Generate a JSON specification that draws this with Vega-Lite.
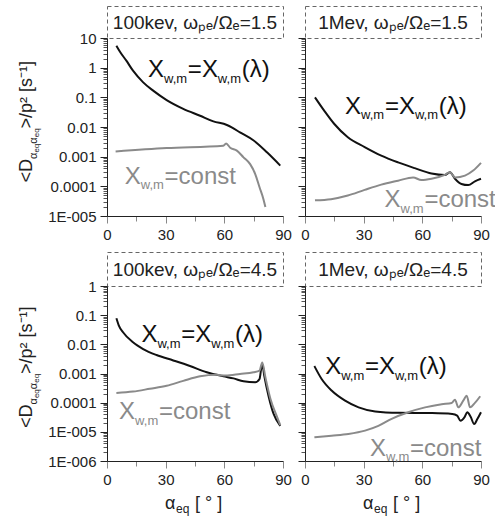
{
  "$schema": "https://vega.github.io/schema/vega-lite/v6.json",
  "padding": {"left": 5, "top": 5, "right": 0, "bottom": 0},
  "columns": 3,
  "spacing": {"row": 9, "column": 5},
  "datasets": {
    "curves": [
      {"p":"A","s":"lam","x":4.8,"y":5.5},{"p":"A","s":"lam","x":6.8,"y":3.3},{"p":"A","s":"lam","x":9.9,"y":1.72},{"p":"A","s":"lam","x":13.3,"y":0.79},{"p":"A","s":"lam","x":18.5,"y":0.32},{"p":"A","s":"lam","x":23.6,"y":0.168},{"p":"A","s":"lam","x":30.5,"y":0.081},{"p":"A","s":"lam","x":39,"y":0.041},{"p":"A","s":"lam","x":47.6,"y":0.024},{"p":"A","s":"lam","x":54.4,"y":0.0155},{"p":"A","s":"lam","x":61.3,"y":0.0117},{"p":"A","s":"lam","x":64,"y":0.0095},{"p":"A","s":"lam","x":68,"y":0.0066},{"p":"A","s":"lam","x":75,"y":0.0035},{"p":"A","s":"lam","x":81.8,"y":0.0014},{"p":"A","s":"lam","x":88.6,"y":0.0005},
      {"p":"A","s":"const","x":4.4,"y":0.0015},{"p":"A","s":"const","x":30.5,"y":0.00195},{"p":"A","s":"const","x":59.5,"y":0.00234},{"p":"A","s":"const","x":60.9,"y":0.0028},{"p":"A","s":"const","x":63,"y":0.002},{"p":"A","s":"const","x":66.4,"y":0.0016},{"p":"A","s":"const","x":69.8,"y":0.00095},{"p":"A","s":"const","x":73.2,"y":0.00056},{"p":"A","s":"const","x":75.8,"y":0.00026},{"p":"A","s":"const","x":78,"y":0.000093},{"p":"A","s":"const","x":80,"y":0.000037},{"p":"A","s":"const","x":81,"y":0.00002},
      {"p":"B","s":"lam","x":5.1,"y":0.1},{"p":"B","s":"lam","x":9.9,"y":0.035},{"p":"B","s":"lam","x":15,"y":0.0126},{"p":"B","s":"lam","x":21.9,"y":0.0045},{"p":"B","s":"lam","x":30.5,"y":0.0021},{"p":"B","s":"lam","x":39,"y":0.00108},{"p":"B","s":"lam","x":47.6,"y":0.00064},{"p":"B","s":"lam","x":56.1,"y":0.00041},{"p":"B","s":"lam","x":64.7,"y":0.00027},{"p":"B","s":"lam","x":71.5,"y":0.00024},{"p":"B","s":"lam","x":74.1,"y":0.0003},{"p":"B","s":"lam","x":76.7,"y":0.00018},{"p":"B","s":"lam","x":80,"y":0.00012},{"p":"B","s":"lam","x":83.5,"y":0.00011},{"p":"B","s":"lam","x":86.9,"y":0.000148},{"p":"B","s":"lam","x":90,"y":0.00018},
      {"p":"B","s":"const","x":5.1,"y":0.000034},{"p":"B","s":"const","x":13.3,"y":0.000037},{"p":"B","s":"const","x":21.9,"y":0.000049},{"p":"B","s":"const","x":30.5,"y":0.000076},{"p":"B","s":"const","x":39,"y":0.000114},{"p":"B","s":"const","x":47.6,"y":0.000155},{"p":"B","s":"const","x":55.3,"y":0.0002},{"p":"B","s":"const","x":59.5,"y":0.000162},{"p":"B","s":"const","x":64.7,"y":0.00018},{"p":"B","s":"const","x":71.5,"y":0.000245},{"p":"B","s":"const","x":74.1,"y":0.0003},{"p":"B","s":"const","x":76.7,"y":0.0002},{"p":"B","s":"const","x":81.8,"y":0.00023},{"p":"B","s":"const","x":86,"y":0.00034},{"p":"B","s":"const","x":90,"y":0.00062},
      {"p":"C","s":"lam","x":4.8,"y":0.078},{"p":"C","s":"lam","x":6,"y":0.045},{"p":"C","s":"lam","x":8.2,"y":0.026},{"p":"C","s":"lam","x":13.3,"y":0.0117},{"p":"C","s":"lam","x":18.5,"y":0.0069},{"p":"C","s":"lam","x":25.3,"y":0.0043},{"p":"C","s":"lam","x":33.9,"y":0.0028},{"p":"C","s":"lam","x":42.4,"y":0.0018},{"p":"C","s":"lam","x":51,"y":0.0011},{"p":"C","s":"lam","x":59.5,"y":0.0008},{"p":"C","s":"lam","x":64.7,"y":0.00068},{"p":"C","s":"lam","x":69.8,"y":0.00054},{"p":"C","s":"lam","x":75.8,"y":0.0005},{"p":"C","s":"lam","x":78,"y":0.00065},{"p":"C","s":"lam","x":78.8,"y":0.0014},{"p":"C","s":"lam","x":79.4,"y":0.0021},{"p":"C","s":"lam","x":80.4,"y":0.00085},{"p":"C","s":"lam","x":82.6,"y":0.00017},{"p":"C","s":"lam","x":85.2,"y":0.000041},{"p":"C","s":"lam","x":88.6,"y":0.000016},
      {"p":"C","s":"const","x":4.8,"y":0.000214},{"p":"C","s":"const","x":13.3,"y":0.00024},{"p":"C","s":"const","x":21.9,"y":0.0003},{"p":"C","s":"const","x":30.5,"y":0.00038},{"p":"C","s":"const","x":39,"y":0.00056},{"p":"C","s":"const","x":47.6,"y":0.0008},{"p":"C","s":"const","x":56.1,"y":0.0009},{"p":"C","s":"const","x":60.6,"y":0.00085},{"p":"C","s":"const","x":68,"y":0.00096},{"p":"C","s":"const","x":74.9,"y":0.0011},{"p":"C","s":"const","x":78,"y":0.00126},{"p":"C","s":"const","x":79.4,"y":0.0024},{"p":"C","s":"const","x":81,"y":0.00074},{"p":"C","s":"const","x":83.6,"y":0.000134},{"p":"C","s":"const","x":87,"y":0.000032},{"p":"C","s":"const","x":88.6,"y":0.000017},
      {"p":"D","s":"lam","x":4.8,"y":0.0018},{"p":"D","s":"lam","x":8.5,"y":0.00065},{"p":"D","s":"lam","x":13.6,"y":0.00026},{"p":"D","s":"lam","x":20.5,"y":0.000117},{"p":"D","s":"lam","x":27.4,"y":0.000069},{"p":"D","s":"lam","x":35.9,"y":0.00005},{"p":"D","s":"lam","x":47.9,"y":0.000045},{"p":"D","s":"lam","x":65,"y":0.000044},{"p":"D","s":"lam","x":75.3,"y":0.000041},{"p":"D","s":"lam","x":77.8,"y":0.000036},{"p":"D","s":"lam","x":79.5,"y":0.000024},{"p":"D","s":"lam","x":81.6,"y":0.000032},{"p":"D","s":"lam","x":83,"y":0.000047},{"p":"D","s":"lam","x":84.7,"y":0.000033},{"p":"D","s":"lam","x":86.5,"y":0.0000185},{"p":"D","s":"lam","x":88.2,"y":0.000028},{"p":"D","s":"lam","x":90,"y":0.000047},
      {"p":"D","s":"const","x":4.8,"y":0.0000065},{"p":"D","s":"const","x":13.6,"y":0.0000074},{"p":"D","s":"const","x":22.2,"y":0.0000085},{"p":"D","s":"const","x":30.7,"y":0.000011},{"p":"D","s":"const","x":37.5,"y":0.000016},{"p":"D","s":"const","x":44.3,"y":0.000028},{"p":"D","s":"const","x":52.8,"y":0.000047},{"p":"D","s":"const","x":61.4,"y":0.000069},{"p":"D","s":"const","x":69.9,"y":0.000089},{"p":"D","s":"const","x":75,"y":0.000098},{"p":"D","s":"const","x":76.7,"y":0.000126},{"p":"D","s":"const","x":78.4,"y":0.000069},{"p":"D","s":"const","x":81,"y":0.00012},{"p":"D","s":"const","x":82.7,"y":0.000174},{"p":"D","s":"const","x":84.4,"y":0.000069},{"p":"D","s":"const","x":87,"y":0.0001},{"p":"D","s":"const","x":89.6,"y":0.000166}
    ],
    "labels": [
      {"p":"A","s":"lam","x":21,"y":0.47,"mid":"=X"},
      {"p":"A","s":"const","x":9.1,"y":0.00012,"mid":"=const"},
      {"p":"B","s":"lam","x":20.5,"y":0.0275,"mid":"=X"},
      {"p":"B","s":"const","x":40.7,"y":0.0000194,"mid":"=const"},
      {"p":"C","s":"lam","x":17.6,"y":0.0117,"mid":"=X"},
      {"p":"C","s":"const","x":6.2,"y":0.0000275,"mid":"=const"},
      {"p":"D","s":"lam","x":10.3,"y":0.00096,"mid":"=X"},
      {"p":"D","s":"const","x":33.3,"y":0.0000015,"mid":"=const"}
    ],
    "titles": [
      {"p":"A","t":"100kev, ωₚₑ/Ωₑ=1.5"},
      {"p":"B","t":"1Mev, ωₚₑ/Ωₑ=1.5"},
      {"p":"C","t":"100kev, ωₚₑ/Ωₑ=4.5"},
      {"p":"D","t":"1Mev, ωₚₑ/Ωₑ=4.5"}
    ],
    "ytitle": [{"a":"<D","b":"α","c":"eq","d":">/p² [s⁻¹]"}],
    "xtitle": [{"a":"α","b":"eq","c":"[ ° ]"}]
  },
  "concat": [
    {
      "width": 37, "height": 210,
      "data": {"name": "ytitle"},
      "layer": [
        {"mark": {"type":"text","angle":270,"align":"right","baseline":"alphabetic","fontSize":18,"dx":-48,"dy":8,"color":"#222"},"encoding":{"text":{"field":"a"}}},
        {"mark": {"type":"text","angle":270,"align":"left","baseline":"alphabetic","fontSize":11,"dx":-48,"dy":13,"color":"#222"},"encoding":{"text":{"field":"b"}}},
        {"mark": {"type":"text","angle":270,"align":"left","baseline":"alphabetic","fontSize":8,"dx":-41.6,"dy":15,"color":"#222"},"encoding":{"text":{"field":"c"}}},
        {"mark": {"type":"text","angle":270,"align":"left","baseline":"alphabetic","fontSize":11,"dx":-32.7,"dy":13,"color":"#222"},"encoding":{"text":{"field":"b"}}},
        {"mark": {"type":"text","angle":270,"align":"left","baseline":"alphabetic","fontSize":8,"dx":-26.3,"dy":15,"color":"#222"},"encoding":{"text":{"field":"c"}}},
        {"mark": {"type":"text","angle":270,"align":"left","baseline":"alphabetic","fontSize":18,"dx":-17.4,"dy":8,"color":"#222"},"encoding":{"text":{"field":"d"}}}
      ]
    },
    {
      "vconcat": [
        {
          "width": 176, "height": 32,
          "view": {"stroke": "#666", "strokeDash": [4, 3], "strokeWidth": 1},
          "data": {"name": "titles"},
          "transform": [{"filter": "datum.p == 'A'"}],
          "mark": {"type": "text", "fontSize": 19, "color": "#222", "dy": 1},
          "encoding": {"text": {"field": "t"}}
        },
        {
          "width": 176, "height": 178,
          "encoding": {
            "x": {"field":"x","type":"quantitative","scale":{"domain":[0,90],"nice":false,"zero":false},
                  "axis":{"title":null,"grid":false,"values":[0,15,30,45,60,75,90],"labelExpr":"datum.value % 30 == 0 ? datum.label : ''","labelFlush":false,"labelOverlap":false,"labelPadding":4,"tickSize":{"condition":{"test":"datum.value % 30 == 0","value":7},"value":5}}},
            "y": {"field":"y","type":"quantitative","scale":{"type":"log","domain":[0.00001,10],"nice":false},
                  "axis":{"title":null,"grid":false,"values":[1e-5,2e-5,3e-5,4e-5,5e-5,6e-5,7e-5,8e-5,9e-5,1e-4,2e-4,3e-4,4e-4,5e-4,6e-4,7e-4,8e-4,9e-4,0.001,0.002,0.003,0.004,0.005,0.006,0.007,0.008,0.009,0.01,0.02,0.03,0.04,0.05,0.06,0.07,0.08,0.09,0.1,0.2,0.3,0.4,0.5,0.6,0.7,0.8,0.9,1,2,3,4,5,6,7,8,9,10],
                          "labelExpr":"abs(log(datum.value)/LN10-round(log(datum.value)/LN10))<0.01 ? (datum.value<0.00005 ? (datum.value<0.000005 ? '1E-006' : '1E-005') : format(datum.value,'~g')) : ''",
                          "labelFlush":false,"labelOverlap":false,"labelPadding":4,
                          "tickSize":{"condition":{"test":"abs(log(datum.value)/LN10-round(log(datum.value)/LN10))<0.01","value":7},"value":4},
                          "tickColor":{"condition":{"test":"abs(log(datum.value)/LN10-round(log(datum.value)/LN10))<0.01","value":"#222"},"value":"#555"}}},
            "color": {"field":"s","type":"nominal","scale":{"domain":["lam","const"],"range":["#111111","#8a8a8a"]},"legend":null}
          },
          "layer": [
            {"data":{"name":"curves"},"transform":[{"filter":"datum.p == 'A'"}],"mark":{"type":"line","strokeWidth":2,"interpolate":"monotone"}},
            {"data":{"name":"labels"},"transform":[{"filter":"datum.p == 'A'"}],
             "layer": [
               {"mark":{"type":"text","text":"X","align":"left","baseline":"alphabetic","fontSize":24}},
               {"mark":{"type":"text","text":"w,m","align":"left","baseline":"alphabetic","fontSize":13,"dx":16,"dy":5.5}},
               {"mark":{"type":"text","align":"left","baseline":"alphabetic","fontSize":24,"dx":39.8},"encoding":{"text":{"field":"mid"}}},
               {"transform":[{"filter":"datum.s == 'lam'"}],"mark":{"type":"text","text":"w,m","align":"left","baseline":"alphabetic","fontSize":13,"dx":69.8,"dy":5.5}},
               {"transform":[{"filter":"datum.s == 'lam'"}],"mark":{"type":"text","text":"(λ)","align":"left","baseline":"alphabetic","fontSize":24,"dx":93.6}}
             ]}
          ]
        }
      ],
      "spacing": 0,
      "bounds": "flush"
    },
    {
      "vconcat": [
        {
          "width": 176, "height": 32,
          "view": {"stroke": "#666", "strokeDash": [4, 3], "strokeWidth": 1},
          "data": {"name": "titles"},
          "transform": [{"filter": "datum.p == 'B'"}],
          "mark": {"type": "text", "fontSize": 19, "color": "#222", "dy": 1},
          "encoding": {"text": {"field": "t"}}
        },
        {
          "width": 176, "height": 178,
          "encoding": {
            "x": {"field":"x","type":"quantitative","scale":{"domain":[0,90],"nice":false,"zero":false},
                  "axis":{"title":null,"grid":false,"values":[0,15,30,45,60,75,90],"labelExpr":"datum.value % 30 == 0 ? datum.label : ''","labelFlush":false,"labelOverlap":false,"labelPadding":4,"tickSize":{"condition":{"test":"datum.value % 30 == 0","value":7},"value":5}}},
            "y": {"field":"y","type":"quantitative","scale":{"type":"log","domain":[0.00001,10],"nice":false},
                  "axis":{"title":null,"grid":false,"labels":false,"values":[1e-5,2e-5,3e-5,4e-5,5e-5,6e-5,7e-5,8e-5,9e-5,1e-4,2e-4,3e-4,4e-4,5e-4,6e-4,7e-4,8e-4,9e-4,0.001,0.002,0.003,0.004,0.005,0.006,0.007,0.008,0.009,0.01,0.02,0.03,0.04,0.05,0.06,0.07,0.08,0.09,0.1,0.2,0.3,0.4,0.5,0.6,0.7,0.8,0.9,1,2,3,4,5,6,7,8,9,10],
                          "tickSize":{"condition":{"test":"abs(log(datum.value)/LN10-round(log(datum.value)/LN10))<0.01","value":7},"value":4},
                          "tickColor":{"condition":{"test":"abs(log(datum.value)/LN10-round(log(datum.value)/LN10))<0.01","value":"#222"},"value":"#555"}}},
            "color": {"field":"s","type":"nominal","scale":{"domain":["lam","const"],"range":["#111111","#8a8a8a"]},"legend":null}
          },
          "layer": [
            {"data":{"name":"curves"},"transform":[{"filter":"datum.p == 'B'"}],"mark":{"type":"line","strokeWidth":2,"interpolate":"monotone"}},
            {"data":{"name":"labels"},"transform":[{"filter":"datum.p == 'B'"}],
             "layer": [
               {"mark":{"type":"text","text":"X","align":"left","baseline":"alphabetic","fontSize":24}},
               {"mark":{"type":"text","text":"w,m","align":"left","baseline":"alphabetic","fontSize":13,"dx":16,"dy":5.5}},
               {"mark":{"type":"text","align":"left","baseline":"alphabetic","fontSize":24,"dx":39.8},"encoding":{"text":{"field":"mid"}}},
               {"transform":[{"filter":"datum.s == 'lam'"}],"mark":{"type":"text","text":"w,m","align":"left","baseline":"alphabetic","fontSize":13,"dx":69.8,"dy":5.5}},
               {"transform":[{"filter":"datum.s == 'lam'"}],"mark":{"type":"text","text":"(λ)","align":"left","baseline":"alphabetic","fontSize":24,"dx":93.6}}
             ]}
          ]
        }
      ],
      "spacing": 0,
      "bounds": "flush"
    },
    {
      "width": 37, "height": 209,
      "data": {"name": "ytitle"},
      "layer": [
        {"mark": {"type":"text","angle":270,"align":"right","baseline":"alphabetic","fontSize":18,"dx":-48,"dy":8,"color":"#222"},"encoding":{"text":{"field":"a"}}},
        {"mark": {"type":"text","angle":270,"align":"left","baseline":"alphabetic","fontSize":11,"dx":-48,"dy":13,"color":"#222"},"encoding":{"text":{"field":"b"}}},
        {"mark": {"type":"text","angle":270,"align":"left","baseline":"alphabetic","fontSize":8,"dx":-41.6,"dy":15,"color":"#222"},"encoding":{"text":{"field":"c"}}},
        {"mark": {"type":"text","angle":270,"align":"left","baseline":"alphabetic","fontSize":11,"dx":-32.7,"dy":13,"color":"#222"},"encoding":{"text":{"field":"b"}}},
        {"mark": {"type":"text","angle":270,"align":"left","baseline":"alphabetic","fontSize":8,"dx":-26.3,"dy":15,"color":"#222"},"encoding":{"text":{"field":"c"}}},
        {"mark": {"type":"text","angle":270,"align":"left","baseline":"alphabetic","fontSize":18,"dx":-17.4,"dy":8,"color":"#222"},"encoding":{"text":{"field":"d"}}}
      ]
    },
    {
      "vconcat": [
        {
          "width": 176, "height": 34,
          "view": {"stroke": "#666", "strokeDash": [4, 3], "strokeWidth": 1},
          "data": {"name": "titles"},
          "transform": [{"filter": "datum.p == 'C'"}],
          "mark": {"type": "text", "fontSize": 19, "color": "#222", "dy": 1},
          "encoding": {"text": {"field": "t"}}
        },
        {
          "width": 176, "height": 175,
          "encoding": {
            "x": {"field":"x","type":"quantitative","scale":{"domain":[0,90],"nice":false,"zero":false},
                  "axis":{"title":null,"grid":false,"values":[0,15,30,45,60,75,90],"labelExpr":"datum.value % 30 == 0 ? datum.label : ''","labelFlush":false,"labelOverlap":false,"labelPadding":4,"tickSize":{"condition":{"test":"datum.value % 30 == 0","value":7},"value":5}}},
            "y": {"field":"y","type":"quantitative","scale":{"type":"log","domain":[0.000001,1],"nice":false},
                  "axis":{"title":null,"grid":false,"values":[1e-6,2e-6,3e-6,4e-6,5e-6,6e-6,7e-6,8e-6,9e-6,1e-5,2e-5,3e-5,4e-5,5e-5,6e-5,7e-5,8e-5,9e-5,1e-4,2e-4,3e-4,4e-4,5e-4,6e-4,7e-4,8e-4,9e-4,0.001,0.002,0.003,0.004,0.005,0.006,0.007,0.008,0.009,0.01,0.02,0.03,0.04,0.05,0.06,0.07,0.08,0.09,0.1,0.2,0.3,0.4,0.5,0.6,0.7,0.8,0.9,1],
                          "labelExpr":"abs(log(datum.value)/LN10-round(log(datum.value)/LN10))<0.01 ? (datum.value<0.00005 ? (datum.value<0.000005 ? '1E-006' : '1E-005') : format(datum.value,'~g')) : ''",
                          "labelFlush":false,"labelOverlap":false,"labelPadding":4,
                          "tickSize":{"condition":{"test":"abs(log(datum.value)/LN10-round(log(datum.value)/LN10))<0.01","value":7},"value":4},
                          "tickColor":{"condition":{"test":"abs(log(datum.value)/LN10-round(log(datum.value)/LN10))<0.01","value":"#222"},"value":"#555"}}},
            "color": {"field":"s","type":"nominal","scale":{"domain":["lam","const"],"range":["#111111","#8a8a8a"]},"legend":null}
          },
          "layer": [
            {"data":{"name":"curves"},"transform":[{"filter":"datum.p == 'C'"}],"mark":{"type":"line","strokeWidth":2,"interpolate":"monotone"}},
            {"data":{"name":"labels"},"transform":[{"filter":"datum.p == 'C'"}],
             "layer": [
               {"mark":{"type":"text","text":"X","align":"left","baseline":"alphabetic","fontSize":24}},
               {"mark":{"type":"text","text":"w,m","align":"left","baseline":"alphabetic","fontSize":13,"dx":16,"dy":5.5}},
               {"mark":{"type":"text","align":"left","baseline":"alphabetic","fontSize":24,"dx":39.8},"encoding":{"text":{"field":"mid"}}},
               {"transform":[{"filter":"datum.s == 'lam'"}],"mark":{"type":"text","text":"w,m","align":"left","baseline":"alphabetic","fontSize":13,"dx":69.8,"dy":5.5}},
               {"transform":[{"filter":"datum.s == 'lam'"}],"mark":{"type":"text","text":"(λ)","align":"left","baseline":"alphabetic","fontSize":24,"dx":93.6}}
             ]}
          ]
        },
        {
          "width": 176, "height": 57,
          "data": {"name": "xtitle"},
          "layer": [
            {"mark": {"type":"text","align":"left","baseline":"alphabetic","fontSize":18,"dx":-30,"dy":19.5,"color":"#222"},"encoding":{"text":{"field":"a"}}},
            {"mark": {"type":"text","align":"left","baseline":"alphabetic","fontSize":12,"dx":-19,"dy":23.5,"color":"#222"},"encoding":{"text":{"field":"b"}}},
            {"mark": {"type":"text","align":"left","baseline":"alphabetic","fontSize":18,"dx":0,"dy":19.5,"color":"#222"},"encoding":{"text":{"field":"c"}}}
          ]
        }
      ],
      "spacing": 0,
      "bounds": "flush"
    },
    {
      "vconcat": [
        {
          "width": 176, "height": 34,
          "view": {"stroke": "#666", "strokeDash": [4, 3], "strokeWidth": 1},
          "data": {"name": "titles"},
          "transform": [{"filter": "datum.p == 'D'"}],
          "mark": {"type": "text", "fontSize": 19, "color": "#222", "dy": 1},
          "encoding": {"text": {"field": "t"}}
        },
        {
          "width": 176, "height": 175,
          "encoding": {
            "x": {"field":"x","type":"quantitative","scale":{"domain":[0,90],"nice":false,"zero":false},
                  "axis":{"title":null,"grid":false,"values":[0,15,30,45,60,75,90],"labelExpr":"datum.value % 30 == 0 ? datum.label : ''","labelFlush":false,"labelOverlap":false,"labelPadding":4,"tickSize":{"condition":{"test":"datum.value % 30 == 0","value":7},"value":5}}},
            "y": {"field":"y","type":"quantitative","scale":{"type":"log","domain":[0.000001,1],"nice":false},
                  "axis":{"title":null,"grid":false,"labels":false,"values":[1e-6,2e-6,3e-6,4e-6,5e-6,6e-6,7e-6,8e-6,9e-6,1e-5,2e-5,3e-5,4e-5,5e-5,6e-5,7e-5,8e-5,9e-5,1e-4,2e-4,3e-4,4e-4,5e-4,6e-4,7e-4,8e-4,9e-4,0.001,0.002,0.003,0.004,0.005,0.006,0.007,0.008,0.009,0.01,0.02,0.03,0.04,0.05,0.06,0.07,0.08,0.09,0.1,0.2,0.3,0.4,0.5,0.6,0.7,0.8,0.9,1],
                          "tickSize":{"condition":{"test":"abs(log(datum.value)/LN10-round(log(datum.value)/LN10))<0.01","value":7},"value":4},
                          "tickColor":{"condition":{"test":"abs(log(datum.value)/LN10-round(log(datum.value)/LN10))<0.01","value":"#222"},"value":"#555"}}},
            "color": {"field":"s","type":"nominal","scale":{"domain":["lam","const"],"range":["#111111","#8a8a8a"]},"legend":null}
          },
          "layer": [
            {"data":{"name":"curves"},"transform":[{"filter":"datum.p == 'D'"}],"mark":{"type":"line","strokeWidth":2,"interpolate":"monotone"}},
            {"data":{"name":"labels"},"transform":[{"filter":"datum.p == 'D'"}],
             "layer": [
               {"mark":{"type":"text","text":"X","align":"left","baseline":"alphabetic","fontSize":24}},
               {"mark":{"type":"text","text":"w,m","align":"left","baseline":"alphabetic","fontSize":13,"dx":16,"dy":5.5}},
               {"mark":{"type":"text","align":"left","baseline":"alphabetic","fontSize":24,"dx":39.8},"encoding":{"text":{"field":"mid"}}},
               {"transform":[{"filter":"datum.s == 'lam'"}],"mark":{"type":"text","text":"w,m","align":"left","baseline":"alphabetic","fontSize":13,"dx":69.8,"dy":5.5}},
               {"transform":[{"filter":"datum.s == 'lam'"}],"mark":{"type":"text","text":"(λ)","align":"left","baseline":"alphabetic","fontSize":24,"dx":93.6}}
             ]}
          ]
        },
        {
          "width": 176, "height": 57,
          "data": {"name": "xtitle"},
          "layer": [
            {"mark": {"type":"text","align":"left","baseline":"alphabetic","fontSize":18,"dx":-30,"dy":19.5,"color":"#222"},"encoding":{"text":{"field":"a"}}},
            {"mark": {"type":"text","align":"left","baseline":"alphabetic","fontSize":12,"dx":-19,"dy":23.5,"color":"#222"},"encoding":{"text":{"field":"b"}}},
            {"mark": {"type":"text","align":"left","baseline":"alphabetic","fontSize":18,"dx":0,"dy":19.5,"color":"#222"},"encoding":{"text":{"field":"c"}}}
          ]
        }
      ],
      "spacing": 0,
      "bounds": "flush"
    }
  ],
  "config": {
    "view": {"stroke": null},
    "font": "Liberation Sans",
    "text": {"font": "Liberation Sans"},
    "axis": {"labelFont": "Liberation Sans", "labelFontSize": 15, "labelColor": "#222", "domainColor": "#222", "domainWidth": 1, "tickWidth": 1}
  }
}
